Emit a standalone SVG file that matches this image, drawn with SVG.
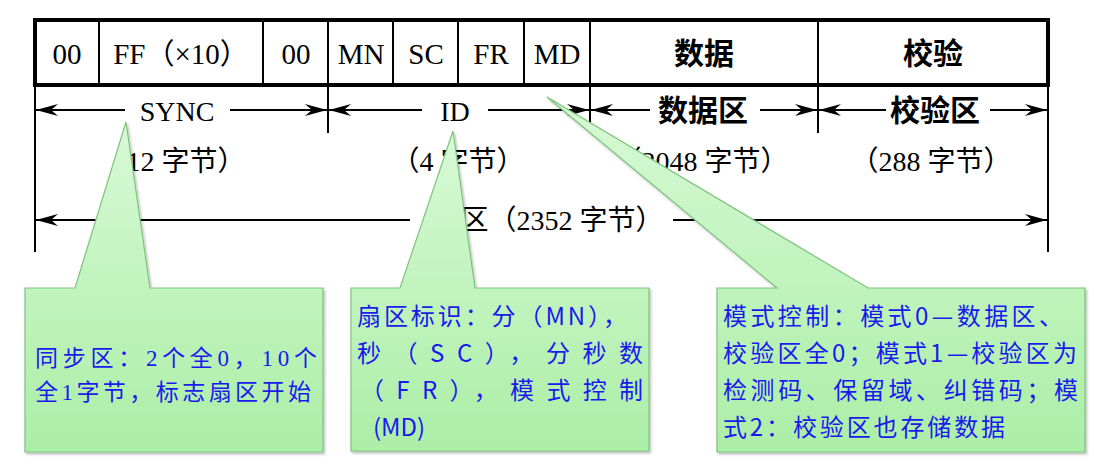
<svg xmlns="http://www.w3.org/2000/svg" width="1094" height="465" viewBox="0 0 1094 465">
<style>
.cell{font-family:"Liberation Serif","Noto Sans CJK SC",serif;font-size:29px;fill:#000;text-anchor:middle}
.hdr{font-family:"Noto Sans CJK SC",sans-serif;font-size:30px;font-weight:bold;fill:#000;text-anchor:middle}
.dim{font-family:"Liberation Serif","Noto Sans CJK SC",serif;font-size:28px;fill:#000;text-anchor:middle}
.dimc{font-family:"Noto Sans CJK SC",sans-serif;font-size:30px;font-weight:bold;fill:#000;text-anchor:middle}
.thick{stroke:#000;stroke-width:4;fill:none}
.thin{stroke:#000;stroke-width:2;fill:none}
.dl{stroke:#000;stroke-width:2;fill:none;marker-end:url(#ah)}
.call{fill:url(#g);stroke:#7cc47c;stroke-width:1.2;filter:url(#sh)}
.t1{font-family:"Liberation Serif","Noto Sans CJK SC",serif;font-size:23px;fill:#1a1aee}
.t2{font-family:"Noto Sans CJK SC",sans-serif;font-size:24px;fill:#1a1aee}
</style>
<defs>
<marker id="ah" markerUnits="userSpaceOnUse" markerWidth="24" markerHeight="14" viewBox="-22 -7 24 14" refX="0" refY="0" orient="auto">
<path d="M0,0 L-22,-6 L-15,0 L-22,6 Z" fill="#000"/>
</marker>
<linearGradient id="g" x1="0" y1="0" x2="0" y2="1">
<stop offset="0" stop-color="#d8f9d6"/>
<stop offset="1" stop-color="#abeea6"/>
</linearGradient>
<filter id="sh" x="-5%" y="-5%" width="110%" height="115%">
<feDropShadow dx="1.5" dy="2" stdDeviation="1.2" flood-color="#000" flood-opacity="0.25"/>
</filter>
</defs>

<g id="table">
<rect x="35" y="20" width="1013" height="65" class="thick"/>
<path class="thin" d="M99,20V85 M263,20V85 M328,20V85 M393,20V85 M458,20V85 M524,20V85 M590,20V85 M818,20V85"/>
<text class="cell" x="67" y="64">00</text>
<text class="cell" x="181" y="64">FF（×10）</text>
<text class="cell" x="296" y="64">00</text>
<text class="cell" x="361" y="64">MN</text>
<text class="cell" x="426" y="64">SC</text>
<text class="cell" x="491" y="64">FR</text>
<text class="cell" x="557" y="64">MD</text>
<text class="hdr" x="704" y="64">数据</text>
<text class="hdr" x="933" y="64">校验</text>
</g>

<g id="connectors">
<path class="thin" d="M35,85V252 M1048,85V252 M328,85V133 M590,85V133 M818,85V133"/>
<line class="dl" x1="125" y1="110" x2="36" y2="110"/>
<line class="dl" x1="230" y1="110" x2="327" y2="110"/>
<line class="dl" x1="422" y1="110" x2="329" y2="110"/>
<line class="dl" x1="488" y1="110" x2="589" y2="110"/>
<line class="dl" x1="650" y1="110" x2="591" y2="110"/>
<line class="dl" x1="760" y1="110" x2="817" y2="110"/>
<line class="dl" x1="886" y1="110" x2="819" y2="110"/>
<line class="dl" x1="990" y1="110" x2="1047" y2="110"/>
<line class="dl" x1="410" y1="220" x2="36" y2="220"/>
<line class="dl" x1="673" y1="220" x2="1047" y2="220"/>
</g>

<g id="labels">
<text class="dim" x="177" y="121">SYNC</text>
<text class="dim" x="455" y="121">ID</text>
<text class="dimc" x="703" y="121">数据区</text>
<text class="dimc" x="935" y="121">校验区</text>
<text class="dim" x="172" y="171">（12 字节）</text>
<text class="dim" x="458" y="171">（4 字节）</text>
<text class="dim" x="701" y="171">（2048 字节）</text>
<text class="dim" x="931" y="171">（288 字节）</text>
<text class="dim" x="548" y="230">扇区（2352 字节）</text>
</g>

<g id="callout-sync">
<path class="call" d="M25,288 L75,288 L126,122 L150,288 L323,288 L323,452 L25,452 Z"/>
<text class="t1" x="35" y="366" textLength="282" lengthAdjust="spacing">同步区：2个全0，10个</text>
<text class="t1" x="35" y="400" textLength="276" lengthAdjust="spacing">全1字节，标志扇区开始</text>
</g>

<g id="callout-id">
<path class="call" d="M351,288 L400,288 L453,131 L475,288 L649,288 L649,451 L351,451 Z"/>
<text class="t2" x="357" y="325" textLength="270" lengthAdjust="spacing">扇区标识：分（MN），</text>
<text class="t2" x="357" y="362" textLength="286" lengthAdjust="spacing">秒（SC），分秒数</text>
<text class="t2" x="360" y="399" textLength="283" lengthAdjust="spacing">（FR），模式控制</text>
<text class="t2" x="373" y="436">(MD)</text>
</g>

<g id="callout-md">
<path class="call" d="M717,288 L777,288 L547,97 L868,288 L1085,288 L1085,452 L717,452 Z"/>
<text class="t2" x="723" y="325" textLength="340" lengthAdjust="spacing">模式控制：模式0—数据区、</text>
<text class="t2" x="723" y="362" textLength="354" lengthAdjust="spacing">校验区全0；模式1—校验区为</text>
<text class="t2" x="723" y="399" textLength="355" lengthAdjust="spacing">检测码、保留域、纠错码；模</text>
<text class="t2" x="723" y="436" textLength="282" lengthAdjust="spacing">式2：校验区也存储数据</text>
</g>
</svg>
